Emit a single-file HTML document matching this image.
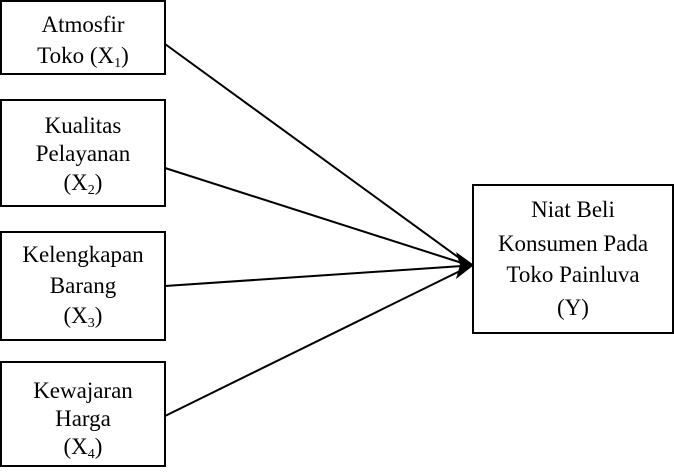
<!DOCTYPE html>
<html><head><style>
body{margin:0;background:#fff;}
svg text{font-family:"Liberation Serif",serif;font-size:23px;fill:#000;}
</style></head><body>
<svg width="674" height="469" viewBox="0 0 674 469" xmlns="http://www.w3.org/2000/svg">
<g fill="none" stroke="#000" stroke-width="2">
<rect x="1" y="1" width="164" height="73"/>
<rect x="1" y="100" width="164" height="106"/>
<rect x="1" y="232" width="164" height="108"/>
<rect x="1" y="362" width="164" height="104"/>
<rect x="473" y="185" width="200" height="148"/>
<line x1="165" y1="44" x2="462" y2="260"/>
<line x1="165" y1="168" x2="462" y2="263"/>
<line x1="165" y1="286" x2="462" y2="266"/>
<line x1="165" y1="416" x2="462" y2="270"/>
</g>
<polygon points="474,265 456,252 460,265 456,279" fill="#000"/>
<g text-anchor="middle">
<text x="83" y="32">Atmosfir</text>
<text x="83" y="63">Toko (X<tspan font-size="14" dy="4">1</tspan><tspan dy="-4">)</tspan></text>
<text x="83" y="133">Kualitas</text>
<text x="83" y="161">Pelayanan</text>
<text x="83" y="190">(X<tspan font-size="14" dy="4">2</tspan><tspan dy="-4">)</tspan></text>
<text x="83" y="262">Kelengkapan</text>
<text x="83" y="293">Barang</text>
<text x="83" y="323">(X<tspan font-size="14" dy="4">3</tspan><tspan dy="-4">)</tspan></text>
<text x="83" y="398">Kewajaran</text>
<text x="83" y="426">Harga</text>
<text x="83" y="454">(X<tspan font-size="14" dy="4">4</tspan><tspan dy="-4">)</tspan></text>
<text x="573" y="217">Niat Beli</text>
<text x="573" y="251">Konsumen Pada</text>
<text x="573" y="282">Toko Painluva</text>
<text x="573" y="315">(Y)</text>
</g>
</svg>
</body></html>
